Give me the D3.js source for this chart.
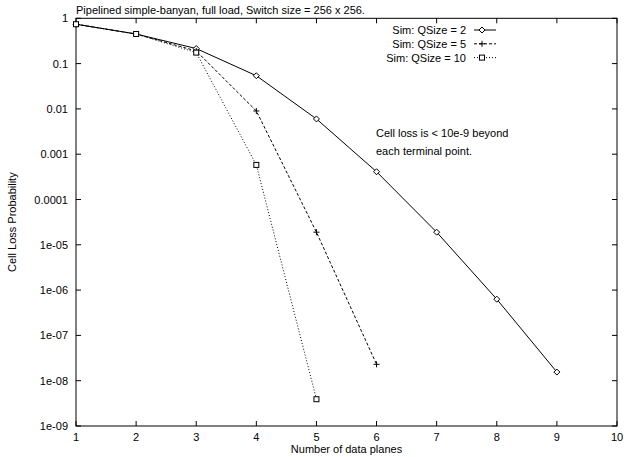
<!DOCTYPE html>
<html>
<head>
<meta charset="utf-8">
<script src="https://cdn.jsdelivr.net/npm/d3@7"></script>
<style>
  body { margin: 0; background: #fff; }
  text { font-family: "Liberation Sans", Arial, Helvetica, sans-serif; font-size: 11px; fill: #000; }
</style>
</head>
<body>
<div id="chart"></div>
<script>
// data
var planes = [1, 2, 3, 4, 5, 6, 7, 8, 9];
var q2 = [0.74, 0.45, 0.215, 0.054, 0.006, 0.00041, 1.9e-5, 6.3e-7, 1.55e-8];
var q5 = [0.74, 0.45, 0.19, 0.009, 1.9e-5, 2.3e-8];
var q10 = [0.74, 0.45, 0.175, 0.00058, 3.9e-9];
var seriesNames = ["Sim: QSize = 2", "Sim: QSize = 5", "Sim: QSize = 10"];
var xTicks = [1, 2, 3, 4, 5, 6, 7, 8, 9, 10];
var yTicks = [1, 0.1, 0.01, 0.001, 0.0001, 1e-5, 1e-6, 1e-7, 1e-8, 1e-9];
var yTickLabels = ["1", "0.1", "0.01", "0.001", "0.0001", "1e-05", "1e-06", "1e-07", "1e-08", "1e-09"];

var W = 624, H = 457;
var pLeft = 76, pRight = 617, pTop = 18.3, pBottom = 426;

var svg = d3.select("#chart").append("svg")
  .attr("width", W)
  .attr("height", H);

var x = d3.scaleLinear().domain([1, 10]).range([pLeft, pRight]);
var y = d3.scaleLog().domain([1e-9, 1]).range([pBottom, pTop]);

// frame
svg.append("rect")
  .attr("x", pLeft).attr("y", pTop)
  .attr("width", pRight - pLeft).attr("height", pBottom - pTop)
  .attr("fill", "none").attr("stroke", "#000").attr("stroke-width", 1);

// ticks, gnuplot style (inward, mirrored)
var tk = 5;
xTicks.forEach(function(t) {
  svg.append("line").attr("x1", x(t)).attr("x2", x(t)).attr("y1", pBottom).attr("y2", pBottom - tk).attr("stroke", "#000");
  svg.append("line").attr("x1", x(t)).attr("x2", x(t)).attr("y1", pTop).attr("y2", pTop + tk).attr("stroke", "#000");
  svg.append("text").attr("x", x(t)).attr("y", 441).attr("text-anchor", "middle").text(t);
});
yTicks.forEach(function(t, i) {
  svg.append("line").attr("x1", pLeft).attr("x2", pLeft + tk).attr("y1", y(t)).attr("y2", y(t)).attr("stroke", "#000");
  svg.append("line").attr("x1", pRight).attr("x2", pRight - tk).attr("y1", y(t)).attr("y2", y(t)).attr("stroke", "#000");
  svg.append("text").attr("x", 68).attr("y", y(t) + 4).attr("text-anchor", "end").text(yTickLabels[i]);
});

// labels
svg.append("text").attr("x", pLeft).attr("y", 14).text("Pipelined simple-banyan, full load, Switch size = 256 x 256.");
svg.append("text").attr("x", (pLeft + pRight) / 2).attr("y", 453).attr("text-anchor", "middle").text("Number of data planes");
svg.append("text")
  .attr("transform", "translate(16," + ((pTop + pBottom) / 2) + ") rotate(-90)")
  .attr("text-anchor", "middle").text("Cell Loss Probability");

svg.append("text").attr("x", 376).attr("y", 137).text("Cell loss is < 10e-9 beyond");
svg.append("text").attr("x", 376).attr("y", 155).text("each terminal point.");

// markers
function marker(g, kind, cx, cy) {
  var r = 3;
  if (kind == "diamond") {
    g.append("path").attr("d", "M" + cx + "," + (cy - r) + "L" + (cx + r) + "," + cy + "L" + cx + "," + (cy + r) + "L" + (cx - r) + "," + cy + "Z")
      .attr("fill", "#fff").attr("stroke", "#000");
  } else if (kind == "plus") {
    g.append("path").attr("d", "M" + (cx - r) + "," + cy + "H" + (cx + r) + "M" + cx + "," + (cy - r) + "V" + (cy + r))
      .attr("fill", "none").attr("stroke", "#000");
  } else {
    g.append("rect").attr("x", cx - 2.5).attr("y", cy - 2.5).attr("width", 5).attr("height", 5)
      .attr("fill", "#fff").attr("stroke", "#000");
  }
}

var series = [
  { vals: q2, dash: null, kind: "diamond" },
  { vals: q5, dash: "3,2", kind: "plus" },
  { vals: q10, dash: "1,2", kind: "square" }
];

var line = d3.line()
  .x(function(d, i) { return x(planes[i]); })
  .y(function(d) { return y(d); });

series.forEach(function(s, k) {
  var g = svg.append("g");
  g.append("path")
    .attr("d", line(s.vals))
    .attr("fill", "none")
    .attr("stroke", "#000")
    .attr("stroke-width", 1)
    .attr("stroke-dasharray", s.dash);
  s.vals.forEach(function(v, i) { marker(g, s.kind, x(planes[i]), y(v)); });

  // legend
  var ly = 30 + k * 13.8;
  svg.append("text").attr("x", 466).attr("y", ly + 4).attr("text-anchor", "end").text(seriesNames[k]);
  g.append("line").attr("x1", 474).attr("x2", 496).attr("y1", ly).attr("y2", ly)
    .attr("stroke", "#000").attr("stroke-dasharray", s.dash);
  marker(g, s.kind, 482, ly);
});
</script>
</body>
</html>
